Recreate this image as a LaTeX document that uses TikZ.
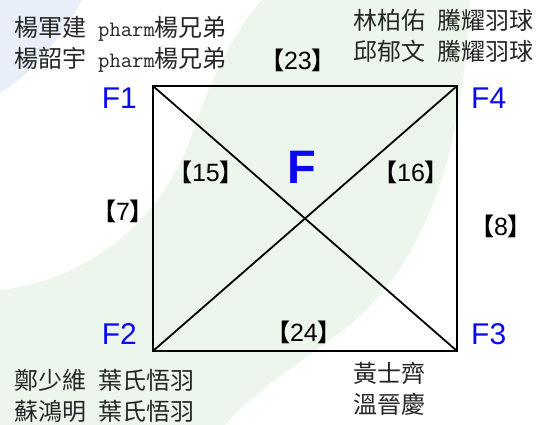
\documentclass[tikz,border=0pt]{standalone}
\usepackage{fontspec}
\setmainfont{Noto Sans CJK TC}
\newfontfamily\arial{Liberation Sans}
\usetikzlibrary{positioning}

\definecolor{bggreen}{HTML}{EDF6EC}
\definecolor{bgblue}{HTML}{E8EFF8}
\definecolor{fblue}{HTML}{0A0AF0}

\newcommand{\mt}[1]{{\bfseries 【}{\arial\fontsize{25}{25}\selectfont #1}{\bfseries 】}}
\newcommand{\club}[1]{{\ttfamily\fontsize{22}{32}\selectfont #1}}

\tikzset{
  court/.style={line width=1.8pt, line join=miter},
  team/.style={align=left, inner sep=0pt, anchor=west, text=black!85,
    font=\fontsize{24}{31}\selectfont},
  flabel/.style={text=fblue, inner sep=0pt, font=\arial\fontsize{30}{30}\selectfont},
  bigf/.style={text=fblue, inner sep=0pt, font=\arial\bfseries\fontsize{47}{47}\selectfont},
  match/.style={inner sep=0pt, font=\fontsize{24}{24}\selectfont},
}

\begin{document}
\begin{tikzpicture}[x=1pt, y=-1pt]
\useasboundingbox (0,0) rectangle (538,425);
\fill[white] (0,0) rectangle (538,425);
\fill[bgblue] (0,0) -- (82,0) .. controls (60,40) and (30,75) .. (0,93) -- cycle;
\fill[bggreen] (262,0) -- (470,0) .. controls (462,150) and (430,270) .. (330,340)
  .. controls (290,370) and (250,395) .. (225,425) -- (0,425) -- (0,290)
  .. controls (90,280) and (160,220) .. (190,140)
  .. controls (210,80) and (235,30) .. (262,0) -- cycle;

\coordinate (c1) at (153,86);
\coordinate (c2) at (153,351);
\coordinate (c3) at (457,351);
\coordinate (c4) at (457,86);

\draw[court] (c1) rectangle (c3);
\draw[court] (c1) -- (c3);
\draw[court] (c2) -- (c4);

\node[flabel, left=16pt of c1, yshift=-12pt] (f1) {F1};
\node[flabel, left=16pt of c2, yshift=17pt] (f2) {F2};
\node[flabel, right=14pt of c3, yshift=17pt] (f3) {F3};
\node[flabel, right=14pt of c4, yshift=-12pt] (f4) {F4};
\node[bigf] (ftitle) at (302,167) {F};

\foreach \x/\y/\n in {298/60/23, 206/172/15, 411/172/16, 123/211/7, 501/226/8, 304/332/24}
  \node[match] (m\n) at (\x,\y) {\mt{\n}};

\node[team] (t1) at (14,44) {楊軍建\hspace{12pt}\club{pharm}楊兄弟\\楊韶宇\hspace{12pt}\club{pharm}楊兄弟};
\node[team] (t4) at (353,36) {林柏佑\hspace{12pt}騰耀羽球\\邱郁文\hspace{12pt}騰耀羽球};
\node[team] (t2) at (14,396) {鄭少維\hspace{12pt}葉氏悟羽\\蘇鴻明\hspace{12pt}葉氏悟羽};
\node[team] (t3) at (353,389) {黃士齊\\溫晉慶};
\end{tikzpicture}
\end{document}
